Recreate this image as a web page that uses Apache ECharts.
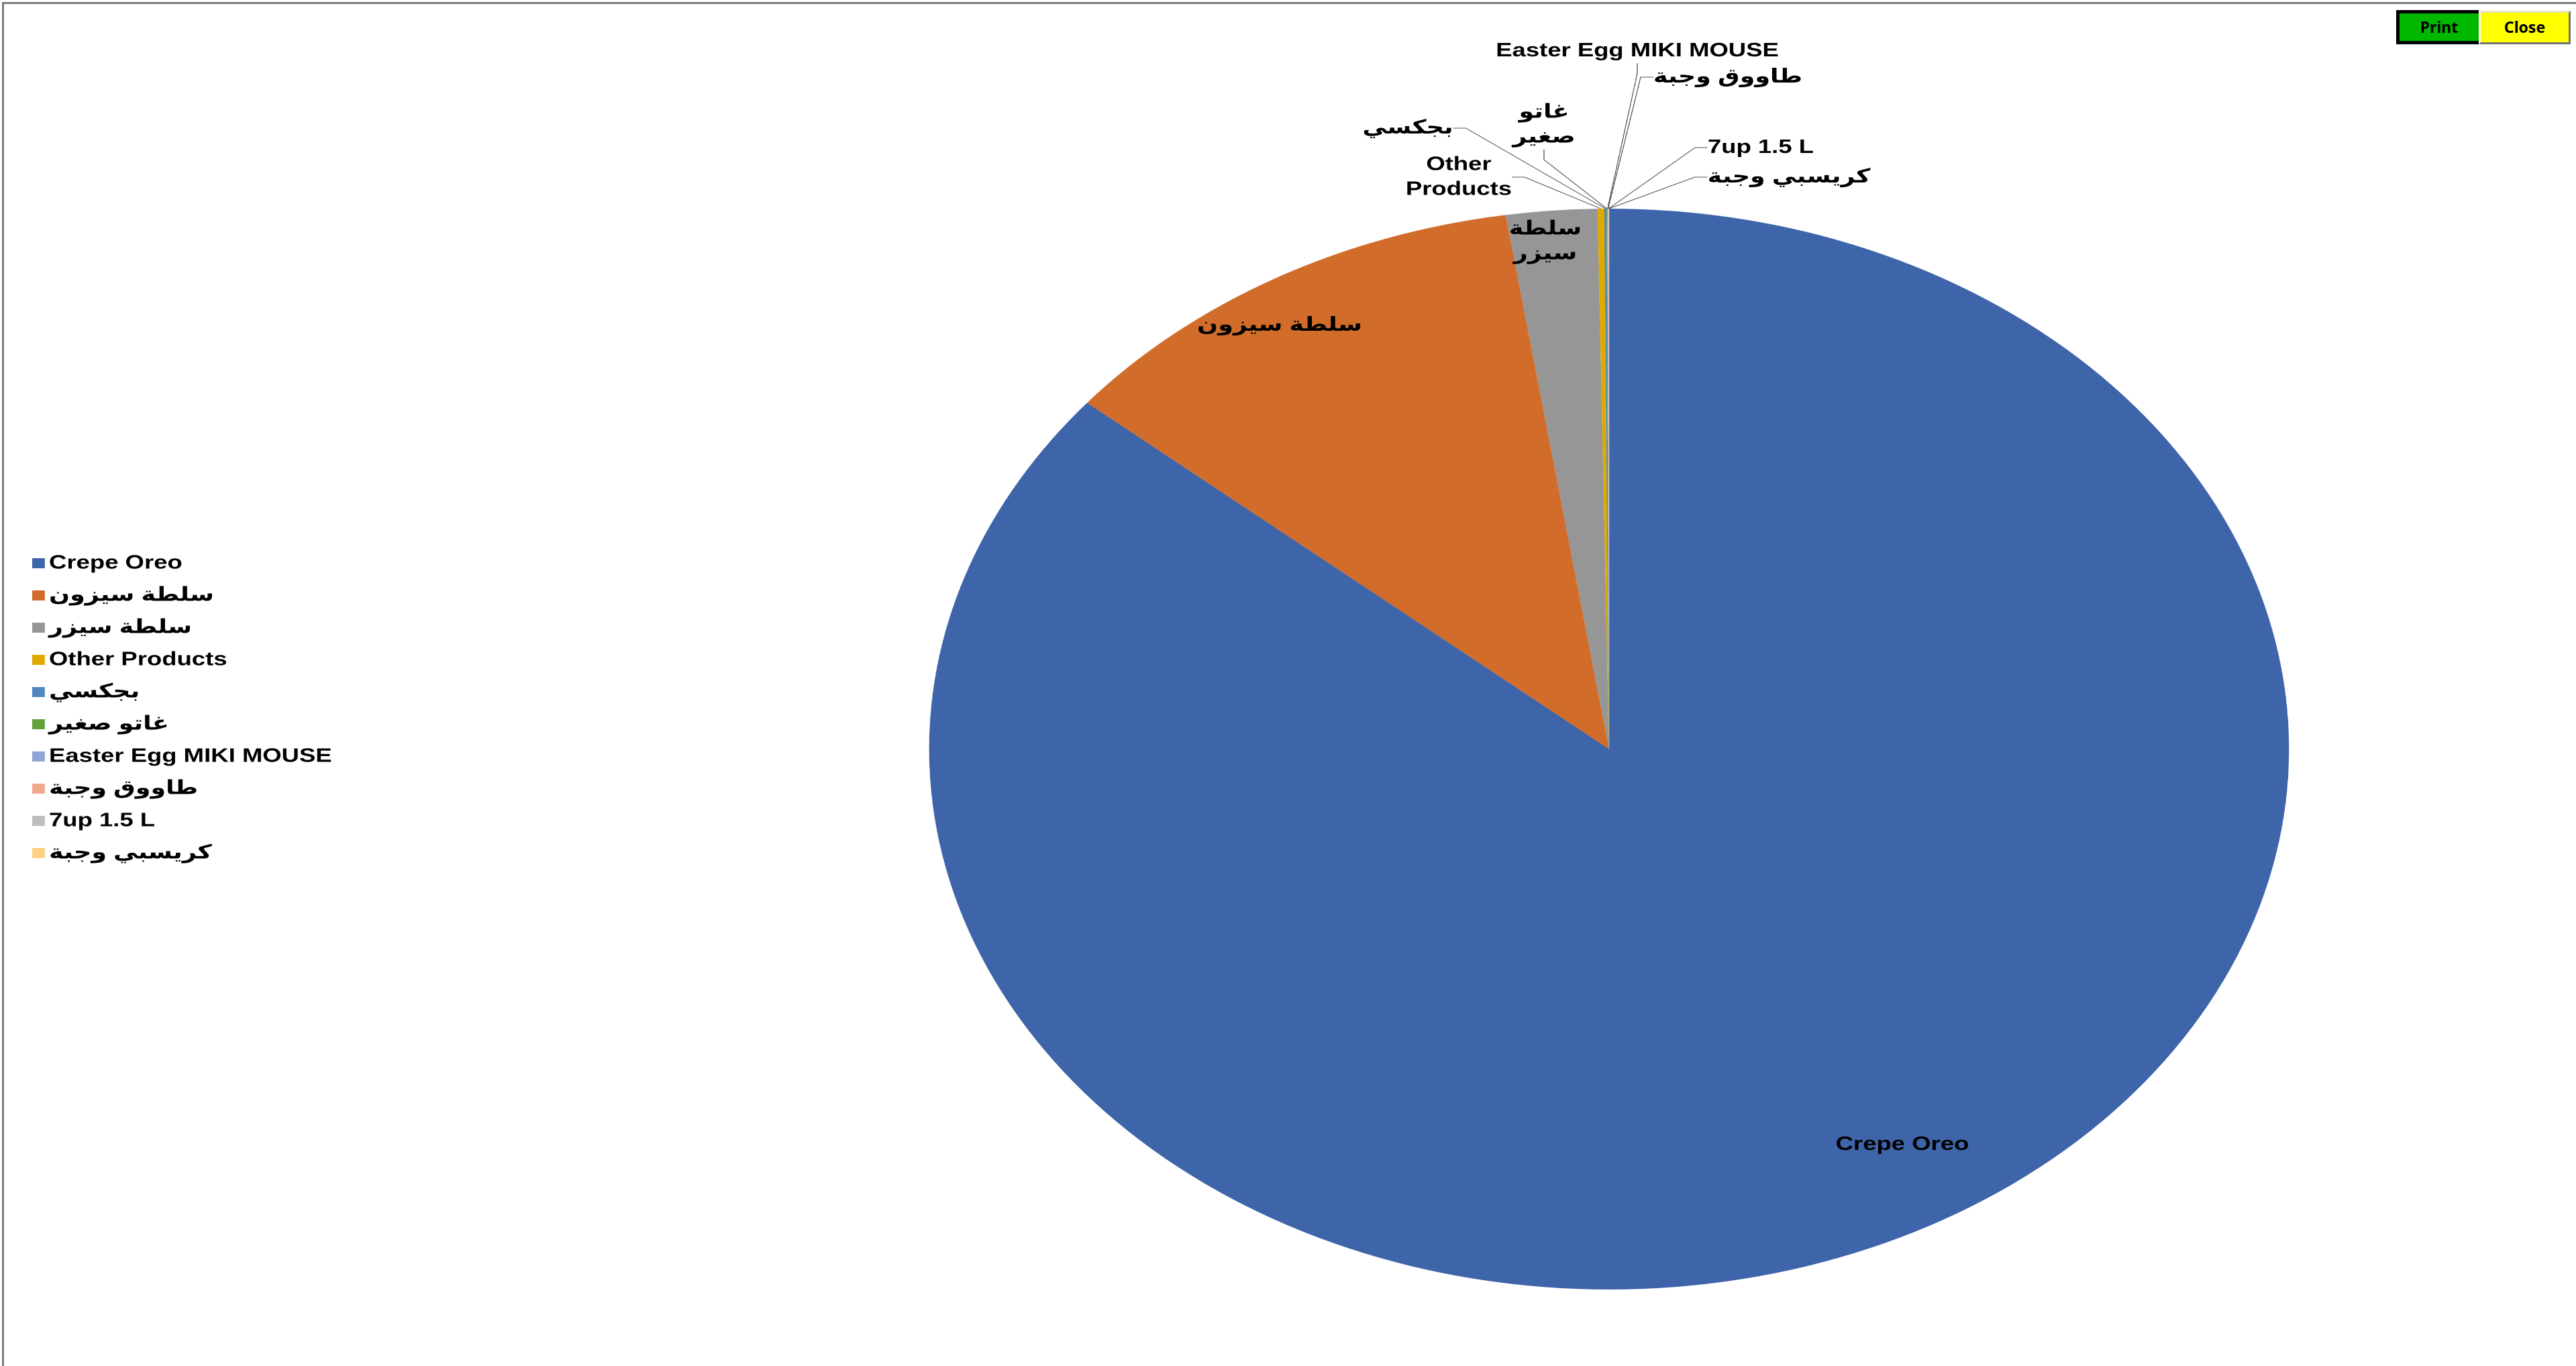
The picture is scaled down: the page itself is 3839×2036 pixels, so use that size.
<!DOCTYPE html>
<html>
<head>
<meta charset="utf-8">
<title>Products</title>
<script src="https://cdn.jsdelivr.net/npm/echarts@6/dist/echarts.min.js"></script>
<style>
  html, body { margin: 0; padding: 0; background: #fff; width: 3839px; height: 2036px; overflow: hidden; }
  /* the reference is a wide stretched picture: round pie + flat text => stretch the whole chart */
  #chart { position: absolute; left: 0; top: 0; width: 3051.7px; height: 2036px; transform: scaleX(1.258); transform-origin: 0 0; }
  #frameTop { position: absolute; left: 3px; top: 3px; width: 3836px; height: 3px; background: #7a7a7a; }
  #frameLeft { position: absolute; left: 3px; top: 3px; width: 3px; height: 2033px; background: #7a7a7a; }
  .btn { position: absolute; box-sizing: border-box; text-align: center; font: bold 23px/1 "Noto Sans", sans-serif; color: #000; }
  #print { left: 3571px; top: 15px; width: 123px; height: 51px; line-height: 41px; border: 5px solid #000; border-right: 0; background: #00b800; }
  #close { left: 3694px; top: 16px; width: 137px; height: 50px; line-height: 42px; background: #ffff00; border: 3px solid; border-color: #e4e4c8 #737373 #737373 #fff; }
</style>
</head>
<body>
<div id="chart"></div>
<div id="frameTop"></div>
<div id="frameLeft"></div>
<div class="btn" id="print">Print</div>
<div class="btn" id="close">Close</div>
<script>
const STRETCH = 1.258;

const categories = ['Crepe Oreo', 'سلطة سيزون', 'سلطة سيزر', 'Other Products', 'بجكسي', 'غاتو صغير', 'Easter Egg MIKI MOUSE', 'طاووق وجبة', '7up 1.5 L', 'كريسبي وجبة'];
const values = [86.07, 11.5, 2.16, 0.157, 0.05, 0.02, 0.015, 0.01, 0.01, 0.008];
const colors = ['#3e64a9', '#d26c2a', '#969696', '#dfa900', '#4f88bf', '#64a03c', '#8fa5d5', '#efa98c', '#bebebe', '#ffd080'];
const labelTexts = ['Crepe Oreo', 'سلطة سيزون', 'سلطة\nسيزر', 'Other\nProducts', 'بجكسي', 'غاتو\nصغير', 'Easter Egg MIKI MOUSE', 'طاووق وجبة', '7up 1.5 L', 'كريسبي وجبة'];
// label centres, in page pixels
const labelX = [2835, 1907, 2303, 2174, 2098, 2301, 2440, 2575, 2624, 2666];
const labelY = [1706, 485, 360, 264, 191, 186, 76, 115, 220, 264];

const font = '"Liberation Sans", "DejaVu Sans", sans-serif';

const chart = echarts.init(document.getElementById('chart'), null, { devicePixelRatio: 2 });

chart.setOption({
  backgroundColor: 'transparent',
  animation: false,
  color: colors,
  legend: {
    orient: 'vertical',
    left: 33,
    top: 818,
    itemWidth: 15,
    itemHeight: 15,
    itemGap: 15,
    icon: 'rect',
    textStyle: { fontFamily: font, fontWeight: 'bold', fontSize: 29, color: '#000', lineHeight: 33 },
    data: categories
  },
  series: [{
    type: 'pie',
    center: [2398 / STRETCH, 1116.5],
    radius: 805.5,
    startAngle: 90,
    clockwise: true,
    avoidLabelOverlap: false,
    minShowLabelAngle: 0,
    itemStyle: { borderWidth: 0 },
    label: {
      show: true,
      position: 'outside',
      color: '#000',
      fontFamily: font,
      fontWeight: 'bold',
      fontSize: 29,
      lineHeight: 37,
      formatter: (params) => labelTexts[params.dataIndex]
    },
    labelLine: {
      show: true,
      length: 20,
      length2: 15,
      lineStyle: { color: '#555', width: 1 }
    },
    labelLayout: (params) => ({
      x: labelX[params.dataIndex] / STRETCH,
      y: labelY[params.dataIndex],
      align: 'center',
      verticalAlign: 'middle'
    }),
    data: categories.map((name, i) => ({
      name,
      value: values[i],
      labelLine: { show: i > 2 }
    }))
  }]
});
</script>
</body>
</html>
